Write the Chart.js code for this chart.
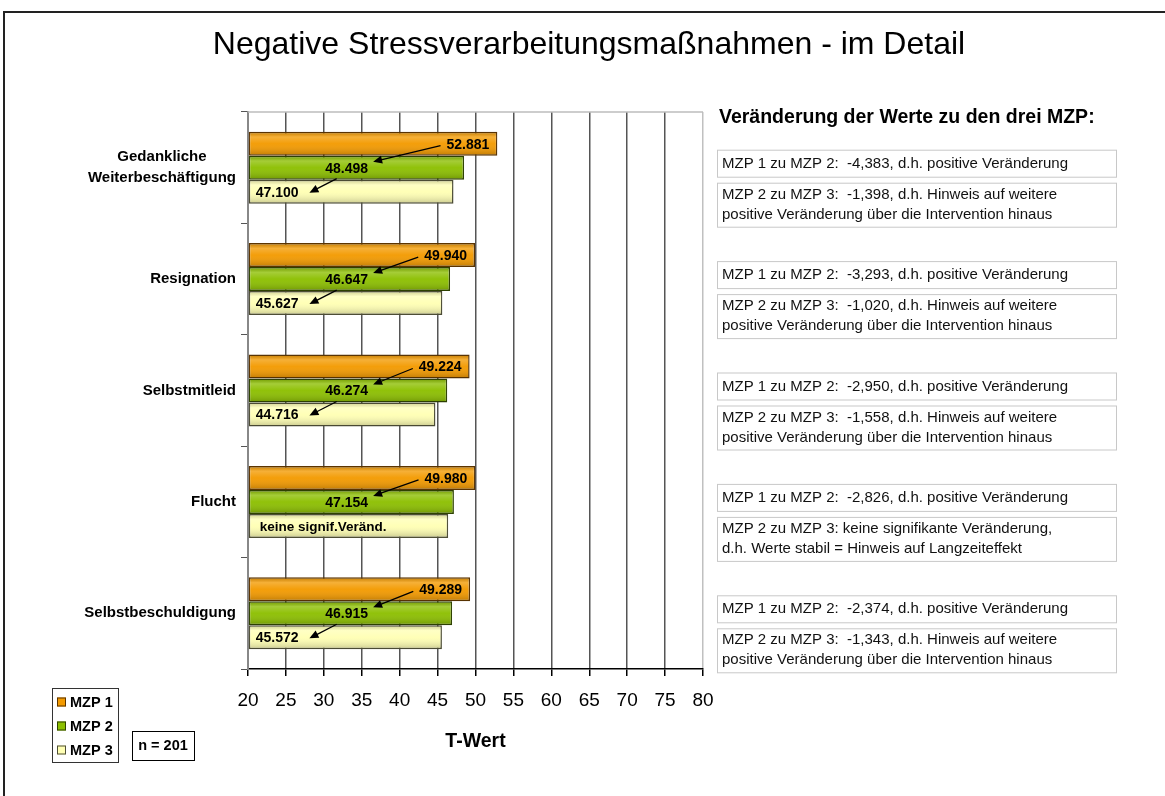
<!DOCTYPE html>
<html lang="de">
<head>
<meta charset="UTF-8">
<title>Negative Stressverarbeitungsmaßnahmen - im Detail</title>
<script src="https://cdn.jsdelivr.net/npm/chart.js"></script>
<style>
  body { margin: 0; background: #fff; }
  #wrap { position: relative; width: 1165px; height: 796px; }
</style>
</head>
<body>
<div id="wrap"><canvas id="stressChart"></canvas></div>
<script>
  const FONT = 'Arial, "Liberation Sans", sans-serif';

  const categories = [['Gedankliche', 'Weiterbeschäftigung'], 'Resignation', 'Selbstmitleid', 'Flucht', 'Selbstbeschuldigung'];
  const mzp1 = [52.881, 49.940, 49.224, 49.980, 49.289];
  const mzp2 = [48.498, 46.647, 46.274, 47.154, 46.915];
  const mzp3 = [47.100, 45.627, 44.716, 46.4, 45.572];
  const mzp3Labels = ['47.100', '45.627', '44.716', 'keine signif.Veränd.', '45.572'];

  const change12 = [
    'MZP 1 zu MZP 2:  -4,383, d.h. positive Veränderung',
    'MZP 1 zu MZP 2:  -3,293, d.h. positive Veränderung',
    'MZP 1 zu MZP 2:  -2,950, d.h. positive Veränderung',
    'MZP 1 zu MZP 2:  -2,826, d.h. positive Veränderung',
    'MZP 1 zu MZP 2:  -2,374, d.h. positive Veränderung',
  ];
  const change23 = [
    ['MZP 2 zu MZP 3:  -1,398, d.h. Hinweis auf weitere', 'positive Veränderung über die Intervention hinaus'],
    ['MZP 2 zu MZP 3:  -1,020, d.h. Hinweis auf weitere', 'positive Veränderung über die Intervention hinaus'],
    ['MZP 2 zu MZP 3:  -1,558, d.h. Hinweis auf weitere', 'positive Veränderung über die Intervention hinaus'],
    ['MZP 2 zu MZP 3: keine signifikante Veränderung,', 'd.h. Werte stabil = Hinweis auf Langzeiteffekt'],
    ['MZP 2 zu MZP 3:  -1,343, d.h. Hinweis auf weitere', 'positive Veränderung über die Intervention hinaus'],
  ];

  const chartTitle = 'Negative Stressverarbeitungsmaßnahmen - im Detail';
  const changeHeader = 'Veränderung der Werte zu den drei MZP:';
  const sampleNote = 'n = 201';
  const xMin = 20, xMax = 80, xStep = 5;

  function arrow(ctx, x1, y1, x2, y2) {
    const a = Math.atan2(y2 - y1, x2 - x1);
    ctx.beginPath();
    ctx.moveTo(x1, y1);
    ctx.lineTo(x2 - 6 * Math.cos(a), y2 - 6 * Math.sin(a));
    ctx.stroke();
    ctx.beginPath();
    ctx.moveTo(x2, y2);
    ctx.lineTo(x2 - 9 * Math.cos(a) + 4 * Math.sin(a), y2 - 9 * Math.sin(a) - 4 * Math.cos(a));
    ctx.lineTo(x2 - 9 * Math.cos(a) - 4 * Math.sin(a), y2 - 9 * Math.sin(a) + 4 * Math.cos(a));
    ctx.closePath();
    ctx.fill();
  }

  // shading, value labels and arrows on the bars
  const barDecor = {
    id: 'barDecor',
    afterDatasetsDraw(chart) {
      const ctx = chart.ctx;
      const xs = chart.scales.x;
      ctx.save();
      chart.data.datasets.forEach((ds, di) => {
        chart.getDatasetMeta(di).data.forEach((bar) => {
          const top = bar.y - bar.height / 2, h = bar.height;
          const g = ctx.createLinearGradient(0, top, 0, top + h);
          g.addColorStop(0, 'rgba(0,0,0,0.18)');
          g.addColorStop(0.22, 'rgba(255,255,255,0.22)');
          g.addColorStop(0.5, 'rgba(255,255,255,0.04)');
          g.addColorStop(1, 'rgba(0,0,0,0.22)');
          ctx.fillStyle = g;
          ctx.fillRect(bar.base + 1, top + 1, bar.x - bar.base - 2, h - 2);
        });
      });

      const m1 = chart.getDatasetMeta(0).data;
      const m2 = chart.getDatasetMeta(1).data;
      const m3 = chart.getDatasetMeta(2).data;
      ctx.fillStyle = '#000';
      ctx.strokeStyle = '#000';
      ctx.lineWidth = 1.3;
      ctx.textBaseline = 'middle';
      for (let i = 0; i < categories.length; i++) {
        const b1 = m1[i], b2 = m2[i], b3 = m3[i];
        ctx.font = 'bold 14px ' + FONT;
        ctx.textAlign = 'right';
        const l1 = mzp1[i].toFixed(3);
        ctx.fillText(l1, b1.x - 8, b1.y + 1);
        const left1 = b1.x - 8 - ctx.measureText(l1).width;
        arrow(ctx, left1 - 6, b1.y + 2, xs.getPixelForValue(36.5), b2.y - b2.height / 2 + 6);

        ctx.textAlign = 'center';
        ctx.fillText(mzp2[i].toFixed(3), xs.getPixelForValue(33), b2.y + 1);

        ctx.textAlign = 'left';
        const numeric = !isNaN(parseFloat(mzp3Labels[i]));
        if (numeric) {
          ctx.fillText(mzp3Labels[i], b3.base + 7, b3.y + 1);
          arrow(ctx, xs.getPixelForValue(31.7), b2.y + b2.height / 2 - 1, xs.getPixelForValue(28.1), b3.y + 1);
        } else {
          ctx.font = 'bold 13.5px ' + FONT;
          ctx.fillText(mzp3Labels[i], b3.base + 11, b3.y + 1);
        }
      }
      ctx.restore();
    },
    afterDraw(chart) {
      const ctx = chart.ctx;
      const ys = chart.scales.y;
      const area = chart.chartArea;
      ctx.save();

      // page frame
      ctx.strokeStyle = '#222';
      ctx.lineWidth = 2;
      ctx.beginPath();
      ctx.moveTo(4, 796);
      ctx.lineTo(4, 12);
      ctx.lineTo(1165, 12);
      ctx.stroke();

      // plot top border
      ctx.strokeStyle = '#bdbdbd';
      ctx.lineWidth = 1.5;
      ctx.beginPath();
      ctx.moveTo(area.left, area.top);
      ctx.lineTo(area.right, area.top);
      ctx.stroke();

      // title
      ctx.fillStyle = '#000';
      ctx.font = '32px ' + FONT;
      ctx.textAlign = 'center';
      ctx.textBaseline = 'middle';
      ctx.fillText(chartTitle, 589, 45);

      // category labels
      ctx.font = 'bold 15px ' + FONT;
      categories.forEach((c, i) => {
        const cy = ys.getPixelForValue(i);
        const lines = Array.isArray(c) ? c : [c];
        const w = Math.max(...lines.map(l => ctx.measureText(l).width));
        ctx.textAlign = 'center';
        lines.forEach((l, k) => {
          ctx.fillText(l, 236 - w / 2, cy + (k - (lines.length - 1) / 2) * 21);
        });
      });

      // right side change boxes
      ctx.font = 'bold 19.5px ' + FONT;
      ctx.textAlign = 'left';
      ctx.fillText(changeHeader, 719, 118);
      ctx.font = '15px ' + FONT;
      categories.forEach((c, i) => {
        const cy = ys.getPixelForValue(i);
        const t1 = cy - 18;
        const t2 = t1 + 33;
        ctx.strokeStyle = '#c8c8c8';
        ctx.lineWidth = 1;
        ctx.strokeRect(717.5, t1 + 0.5, 399, 27);
        ctx.strokeRect(717.5, t2 + 0.5, 399, 44);
        ctx.fillStyle = '#111';
        ctx.fillText(change12[i], 722, t1 + 14);
        change23[i].forEach((l, k) => ctx.fillText(l, 722, t2 + 12 + k * 20));
      });

      // legend
      ctx.strokeStyle = '#333';
      ctx.lineWidth = 1;
      ctx.strokeRect(52.5, 688.5, 66, 74);
      ctx.font = 'bold 14.5px ' + FONT;
      chart.data.datasets.forEach((ds, di) => {
        const ly = 702 + di * 24;
        ctx.fillStyle = ds.backgroundColor;
        ctx.fillRect(57, ly - 4.5, 9, 9);
        ctx.strokeStyle = ds.borderColor;
        ctx.strokeRect(57.5, ly - 4, 8, 8);
        ctx.fillStyle = '#000';
        ctx.fillText(ds.label, 70, ly + 1);
      });
      ctx.strokeStyle = '#000';
      ctx.strokeRect(132.5, 731.5, 62, 29);
      ctx.textAlign = 'center';
      ctx.fillText(sampleNote, 163, 746);
      ctx.restore();
    }
  };

  const barStyle = { base: xMin, borderWidth: 1.5, borderSkipped: false, categoryPercentage: 0.646, barPercentage: 1.0 };

  new Chart(document.getElementById('stressChart'), {
    type: 'bar',
    data: {
      labels: categories,
      datasets: [
        { label: 'MZP 1', data: mzp1, backgroundColor: '#f39a00', borderColor: '#5c3400', ...barStyle },
        { label: 'MZP 2', data: mzp2, backgroundColor: '#8cbf00', borderColor: '#2e4200', ...barStyle },
        { label: 'MZP 3', data: mzp3, backgroundColor: '#ffffb4', borderColor: '#4e4e36', ...barStyle },
      ],
    },
    options: {
      indexAxis: 'y',
      responsive: true,
      maintainAspectRatio: false,
      animation: false,
      layout: { padding: { left: 0, top: 112, right: 462, bottom: 37 } },
      plugins: {
        legend: { display: false },
        tooltip: { enabled: false },
      },
      scales: {
        x: {
          min: xMin,
          max: xMax,
          ticks: { stepSize: xStep, color: '#000', font: { family: FONT, size: 19 }, padding: 13 },
          grid: {
            color: (c) => (c.index === 0 || c.index === 12) ? '#c0c0c0' : '#555',
            lineWidth: 1.5,
            tickColor: '#000',
            tickLength: 7,
          },
          border: { color: '#000', width: 1.5 },
          title: { display: true, text: 'T-Wert', color: '#000', font: { family: FONT, size: 19.5, weight: 'bold' }, padding: { bottom: 6 } },
          afterFit: (s) => { s.height = 90; },
        },
        y: {
          ticks: { display: false },
          grid: {
            offset: true,
            color: 'transparent',
            tickColor: '#555',
            tickLength: 7,
          },
          border: { color: '#888', width: 2 },
          afterFit: (s) => { s.width = 248; },
        },
      },
    },
    plugins: [barDecor],
  });
</script>
</body>
</html>
